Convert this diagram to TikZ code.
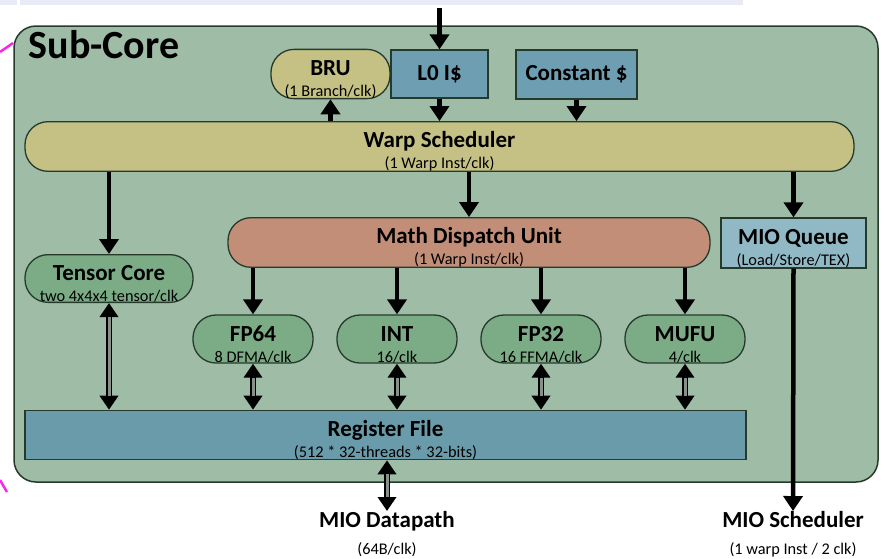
\documentclass[tikz,border=0pt]{standalone}
\usepackage{fontspec}
\setmainfont{Carlito}
\usetikzlibrary{arrows.meta}
\definecolor{corefill}{RGB}{158,188,166}
\definecolor{schedfill}{RGB}{197,192,132}
\definecolor{cachefill}{RGB}{110,158,178}
\definecolor{dispfill}{RGB}{194,142,120}
\definecolor{queuefill}{RGB}{145,184,197}
\definecolor{unitfill}{RGB}{124,172,134}
\definecolor{regfill}{RGB}{106,155,170}
\definecolor{edgecol}{RGB}{38,58,44}
\definecolor{bandfill}{RGB}{232,235,245}
\definecolor{marker}{RGB}{250,40,230}
\definecolor{shaftcol}{RGB}{135,145,138}
\newcommand{\subtxt}[1]{{\fontsize{16.3}{18}\selectfont\mdseries #1}}
\newcommand{\twoline}[2]{\rule{0pt}{26pt}#1\\\subtxt{#2}}
\tikzset{every picture/.style={line width=1.2pt}}

\begin{document}
\begin{tikzpicture}[x=1pt,y=1pt,yscale=-1,xscale=1,
  box/.style={draw=edgecol, line width=1.3pt, align=center, inner sep=0pt, font=\fontsize{23}{21}\selectfont\bfseries},
  pill/.style={box, rounded corners=23pt},
  arr/.style={line width=4.5pt, -{Triangle[width=19pt,length=15pt]}},
  dblarr/.style={line width=6.5pt, {Triangle[width=18pt,length=14pt]}-{Triangle[width=18pt,length=14pt]},
    postaction={draw, shaftcol, line width=3pt, -, shorten >=14pt, shorten <=14pt}}]
\useasboundingbox (0,0) rectangle (886,558);

% page remains
\fill[bandfill] (0,0) rectangle (17,4.5);
\fill[bandfill] (20,0) rectangle (743,4.5);
\draw[marker, line width=2.5pt] (0,52) -- (13,43);
\draw[marker, line width=2.5pt] (23,37) -- (33,31);
\draw[marker, line width=2.5pt] (0,480) -- (7,492);

% sub-core frame
\draw[draw=edgecol, fill=corefill, line width=1.5pt, rounded corners=22pt] (14,26) rectangle (878,482);
\node[anchor=base west, inner sep=0pt, font=\fontsize{40}{42}\selectfont\bfseries] (title) at (28,58) {Sub-Core};

% top row
\node[pill, fill=schedfill, minimum width=119pt, minimum height=48pt] (bru) at (330.5,74) {\twoline{BRU}{(1 Branch/clk)}};
\node[box, fill=cachefill, minimum width=97pt, minimum height=48pt] (l0) at (439.5,74) {L0 I\$};
\node[box, fill=cachefill, minimum width=121pt, minimum height=49pt] (const) at (576.5,74.5) {Constant \$};

% schedulers
\node[pill, fill=schedfill, minimum width=829pt, minimum height=47pt] (ws) at (439.5,146.5) {\twoline{Warp Scheduler}{(1 Warp Inst/clk)}};
\node[pill, fill=dispfill, minimum width=482pt, minimum height=49pt] (md) at (469,242.5) {\twoline{Math Dispatch Unit}{(1 Warp Inst/clk)}};
\node[box, fill=queuefill, minimum width=145pt, minimum height=50pt] (mq) at (793.5,243) {\twoline{MIO Queue}{(Load/Store/TEX)}};

% execution units
\node[pill, fill=unitfill, minimum width=168pt, minimum height=47pt] (tc) at (109,278.5) {\twoline{Tensor Core}{two 4x4x4 tensor/clk}};
\node[pill, fill=unitfill, minimum width=120pt, minimum height=48pt] (fpd) at (253,339) {\twoline{FP64}{8 DFMA/clk}};
\node[pill, fill=unitfill, minimum width=120pt, minimum height=48pt] (int) at (397,339) {\twoline{INT}{16/clk}};
\node[pill, fill=unitfill, minimum width=120pt, minimum height=48pt] (fps) at (541,339) {\twoline{FP32}{16 FFMA/clk}};
\node[pill, fill=unitfill, minimum width=120pt, minimum height=48pt] (mufu) at (685,339) {\twoline{MUFU}{4/clk}};

% register file
\node[box, fill=regfill, minimum width=721pt, minimum height=48pt] (rf) at (385.5,435) {\twoline{Register File}{(512 * 32-threads * 32-bits)}};

% outside
\node[anchor=north, align=center, inner sep=0pt, font=\fontsize{23}{21}\selectfont\bfseries] (miodp) at (387,511) {MIO Datapath\\[6pt]\subtxt{(64B/clk)}};
\node[anchor=north, align=center, inner sep=0pt, font=\fontsize{23}{21}\selectfont\bfseries] (miosch) at (793,511) {MIO Scheduler\\[6pt]\subtxt{(1 warp Inst / 2 clk)}};
\coordinate (l0in) at (439.5,8);

% connectors
\draw[arr] (l0in) -- (l0.north);
\draw[arr] (ws.north -| bru) -- (bru.south);
\draw[arr] (l0.south) -- (l0.south |- ws.north);
\draw[arr] (const.south) -- (const.south |- ws.north);
\draw[arr] (ws.south -| tc) -- (tc.north);
\draw[arr] (ws.south -| md) -- (md.north);
\draw[arr] (ws.south -| mq) -- (mq.north);
\foreach \u in {fpd,int,fps,mufu}
  \draw[arr] (md.south -| \u) -- (\u.north);
\draw[dblarr] (tc.south) -- (tc.south |- rf.north);
\foreach \u in {fpd,int,fps,mufu}
  \draw[dblarr, line width=6pt, postaction={line width=2.5pt}] (\u.south) -- (\u.south |- rf.north);
\draw[dblarr] (rf.south -| miodp) -- (miodp.north);
\draw[arr] (mq.south) -- (miosch.north);

\end{tikzpicture}
\end{document}
